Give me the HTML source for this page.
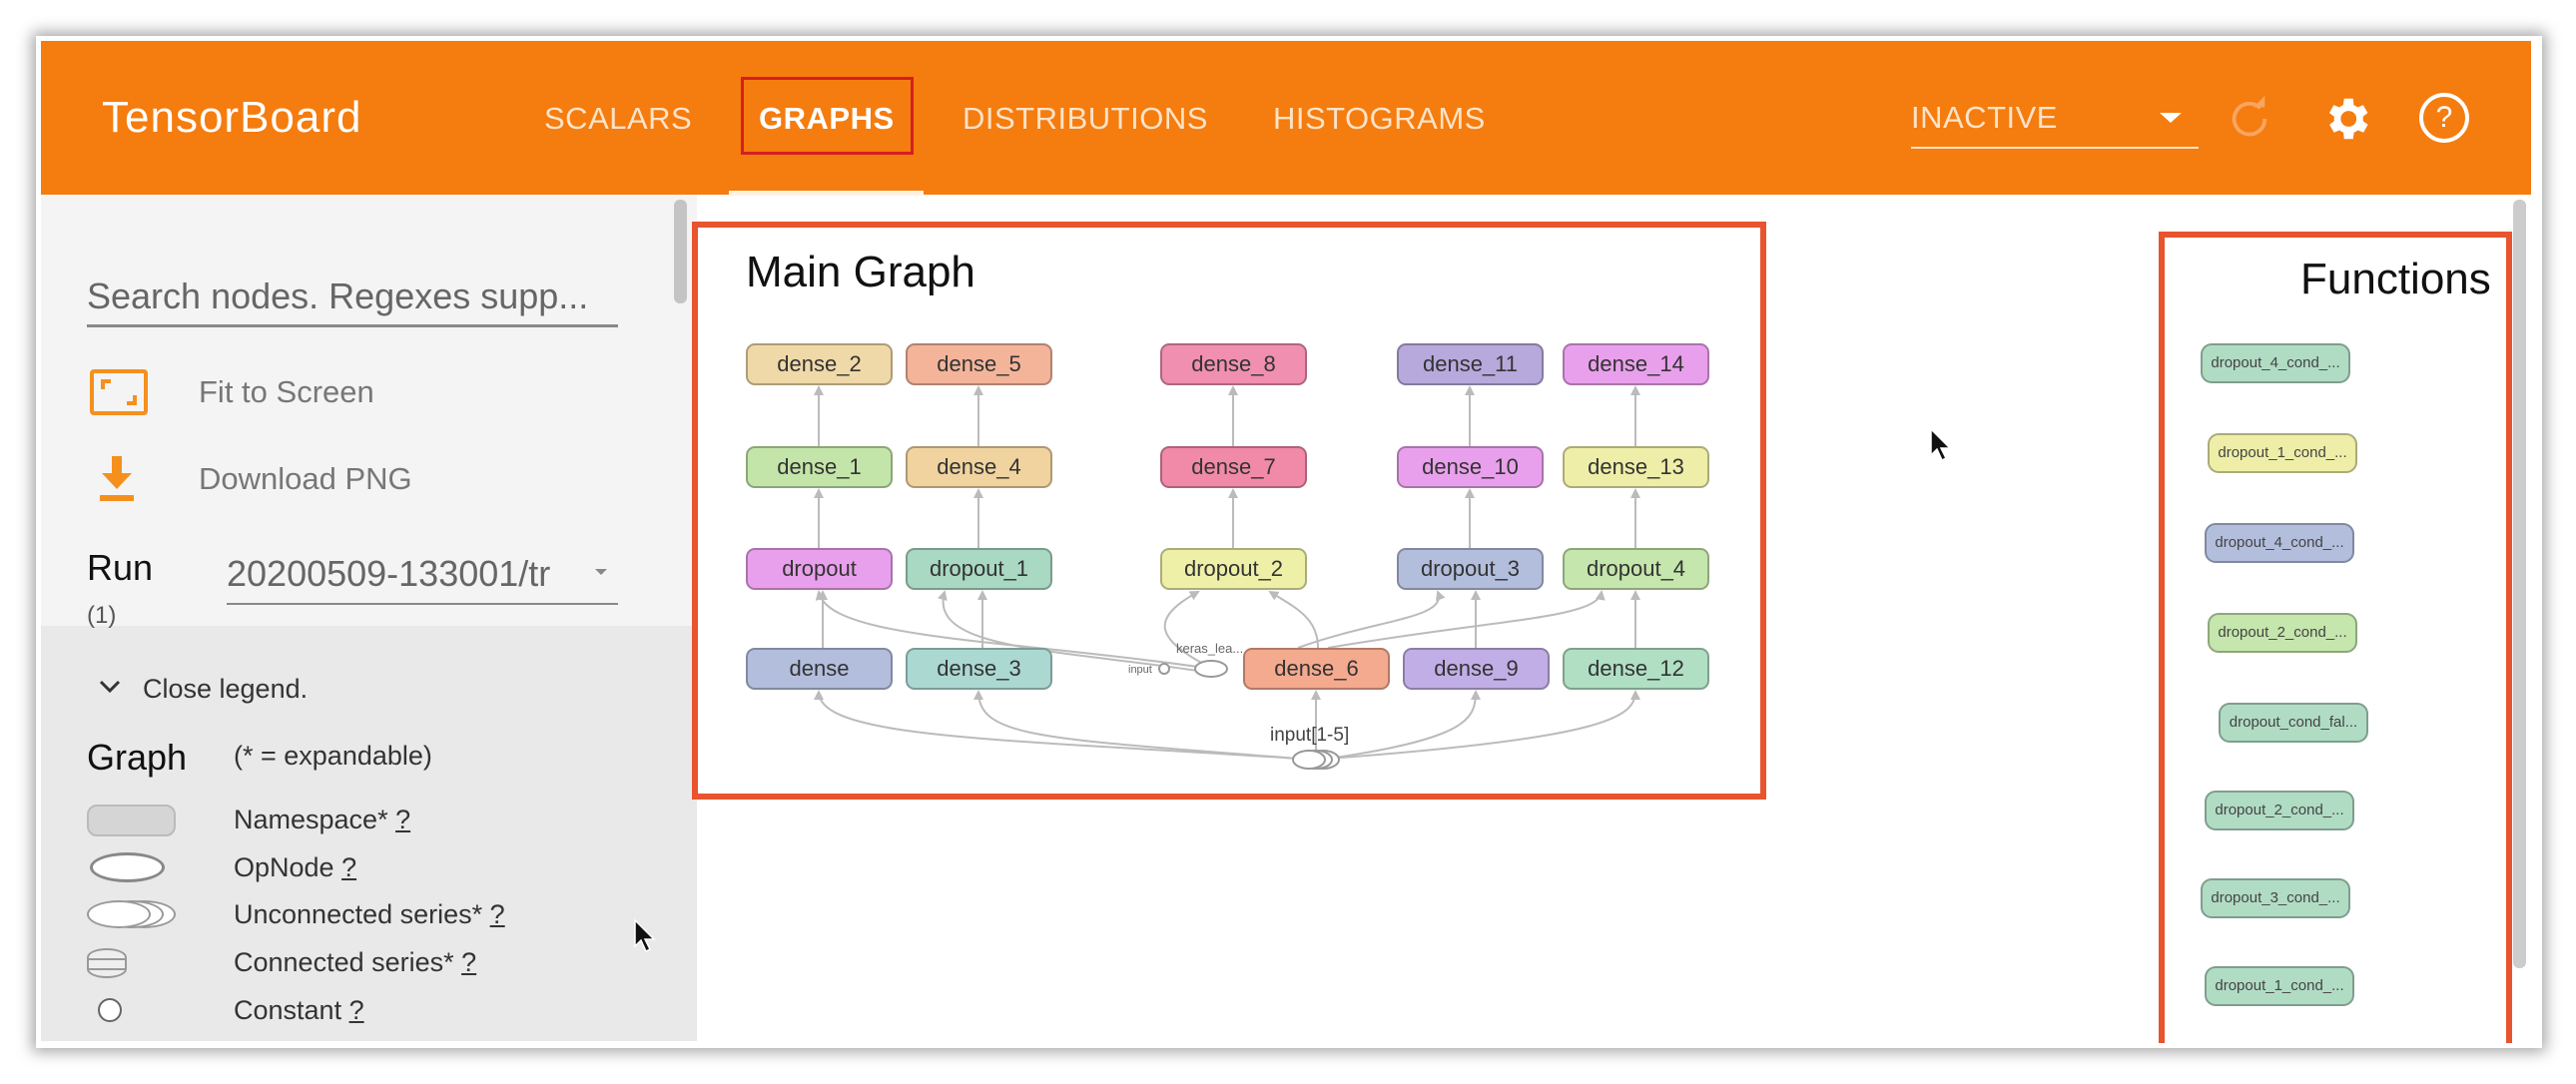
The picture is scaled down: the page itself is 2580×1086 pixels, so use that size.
<!DOCTYPE html>
<html><head><meta charset="utf-8"><style>
*{margin:0;padding:0;box-sizing:border-box}
body{width:2580px;height:1086px;background:#fff;position:relative;overflow:hidden;font-family:"Liberation Sans",sans-serif}
.a{position:absolute;white-space:nowrap}
.card{position:absolute;left:36px;top:36px;width:2510px;height:1014px;background:#fff;box-shadow:0 0 14px 4px rgba(0,0,0,.35)}
.hdr{position:absolute;left:41px;top:41px;width:2494px;height:154px;background:#f57c0e}
.nav{color:#fde3c8;font-size:31px;top:101px;letter-spacing:0.5px}
.node{position:absolute;width:147px;height:42px;border:2px solid rgba(0,0,0,.28);border-radius:9px;font-size:22px;color:#333;text-align:center;line-height:38px}
.fn{position:absolute;width:150px;height:40px;border:2px solid rgba(0,0,0,.28);border-radius:11px;font-size:15px;color:#444;text-align:center;line-height:36px}
.side{color:#777;font-size:31px}
.leg{font-size:27px;color:#333}
.leg u{text-decoration:underline;}
</style></head><body>
<div class="card"></div>
<div class="hdr"></div>
<div class="a" style="left:102px;top:93px;font-size:44px;color:#fff;letter-spacing:1px">TensorBoard</div>
<div class="a nav" style="left:545px">SCALARS</div>
<div class="a nav" style="left:760px;color:#fff;font-weight:bold">GRAPHS</div>
<div class="a" style="left:742px;top:77px;width:173px;height:78px;border:3px solid #d42020"></div>
<div class="a" style="left:730px;top:191px;width:195px;height:5px;background:#fff3e0"></div>
<div class="a nav" style="left:964px">DISTRIBUTIONS</div>
<div class="a nav" style="left:1275px">HISTOGRAMS</div>
<div class="a" style="left:1914px;top:100px;font-size:31px;color:#fde3c8;letter-spacing:0.5px">INACTIVE</div>
<div class="a" style="left:1914px;top:147px;width:288px;height:2px;background:#fde3c8"></div>
<div class="a" style="left:2163px;top:113px;width:0;height:0;border-left:11px solid transparent;border-right:11px solid transparent;border-top:10px solid #fff"></div>
<svg class="a" style="left:2230px;top:96px" width="46" height="46" viewBox="0 0 24 24"><path d="M17.6 6.4A8 8 0 1 0 20 12" fill="none" stroke="#f8a560" stroke-width="2"/><path d="M14 6h6V0z" fill="#f8a560"/></svg>
<svg class="a" style="left:2323px;top:92px" width="54" height="54" viewBox="0 0 24 24"><path fill="#fff" d="M19.4 13a7.5 7.5 0 0 0 0-2l2.1-1.6-2-3.5-2.5 1a7.3 7.3 0 0 0-1.7-1L15 3h-4l-.4 2.9a7.3 7.3 0 0 0-1.7 1l-2.5-1-2 3.5L6.6 11a7.5 7.5 0 0 0 0 2l-2.1 1.6 2 3.5 2.5-1a7.3 7.3 0 0 0 1.7 1L11 21h4l.4-2.9a7.3 7.3 0 0 0 1.7-1l2.5 1 2-3.5zM13 15.5a3.5 3.5 0 1 1 0-7 3.5 3.5 0 0 1 0 7z"/></svg>
<div class="a" style="left:2423px;top:93px;width:50px;height:50px;border:4px solid #fff;border-radius:50%;color:#fff;font-size:30px;text-align:center;line-height:42px">?</div>

<!-- sidebar -->
<div class="a" style="left:41px;top:195px;width:657px;height:432px;background:#f4f4f4"></div>
<div class="a" style="left:41px;top:627px;width:657px;height:416px;background:#e9e9e9"></div>
<div class="a" style="left:675px;top:200px;width:13px;height:104px;background:#c4c4c4;border-radius:6px"></div>
<div class="a" style="left:87px;top:276px;font-size:36px;color:#666">Search nodes. Regexes supp...</div>
<div class="a" style="left:87px;top:325px;width:532px;height:3px;background:#888"></div>
<div class="a" style="left:90px;top:370px;width:58px;height:46px;border:4px solid #f5901e;border-radius:4px"></div>
<div class="a" style="left:101px;top:380px;width:10px;height:10px;border-left:4px solid #f5901e;border-top:4px solid #f5901e"></div>
<div class="a" style="left:127px;top:396px;width:10px;height:10px;border-right:4px solid #f5901e;border-bottom:4px solid #f5901e"></div>
<div class="a side" style="left:199px;top:375px">Fit to Screen</div>
<div class="a" style="left:112px;top:457px;width:10px;height:18px;background:#f5901e"></div>
<div class="a" style="left:102px;top:474px;width:0;height:0;border-left:15px solid transparent;border-right:15px solid transparent;border-top:16px solid #f5901e"></div>
<div class="a" style="left:100px;top:496px;width:34px;height:6px;background:#f5901e"></div>
<div class="a side" style="left:199px;top:462px">Download PNG</div>
<div class="a" style="left:87px;top:548px;font-size:36px;color:#111">Run</div>
<div class="a" style="left:87px;top:603px;font-size:24px;color:#555">(1)</div>
<div class="a" style="left:227px;top:554px;font-size:36px;color:#666">20200509-133001/tr</div>
<div class="a" style="left:596px;top:570px;width:0;height:0;border-left:6px solid transparent;border-right:6px solid transparent;border-top:6px solid #888"></div>
<div class="a" style="left:227px;top:604px;width:392px;height:2px;background:#888"></div>
<svg class="a" style="left:98px;top:680px" width="24" height="16"><path d="M3 3l9 9 9-9" fill="none" stroke="#333" stroke-width="3"/></svg>
<div class="a leg" style="left:143px;top:675px">Close legend.</div>
<div class="a" style="left:87px;top:738px;font-size:36px;color:#111">Graph</div>
<div class="a leg" style="left:234px;top:742px">(* = expandable)</div>
<div class="a" style="left:87px;top:806px;width:89px;height:32px;background:#d5d5d5;border:2px solid #bbb;border-radius:10px"></div>
<div class="a" style="left:90px;top:854px;width:75px;height:30px;background:#fff;border:3px solid #888;border-radius:50%"></div>
<div class="a" style="left:112px;top:902px;width:64px;height:28px;background:#fff;border:2px solid #999;border-radius:50%"></div>
<div class="a" style="left:100px;top:902px;width:64px;height:28px;background:#fff;border:2px solid #999;border-radius:50%"></div>
<div class="a" style="left:87px;top:902px;width:64px;height:28px;background:#fff;border:2px solid #999;border-radius:50%"></div>
<div class="a" style="left:87px;top:950px;width:40px;height:30px;border:2px solid #999;border-radius:50%/30%;background:repeating-linear-gradient(#eee 0 8px,#999 8px 10px)"></div>
<div class="a" style="left:98px;top:1000px;width:24px;height:24px;border:2px solid #666;border-radius:50%;background:#fff"></div>
<div class="a leg" style="left:234px;top:806px">Namespace* <u>?</u></div>
<div class="a leg" style="left:234px;top:854px">OpNode <u>?</u></div>
<div class="a leg" style="left:234px;top:901px">Unconnected series* <u>?</u></div>
<div class="a leg" style="left:234px;top:949px">Connected series* <u>?</u></div>
<div class="a leg" style="left:234px;top:997px">Constant <u>?</u></div>
<svg class="a" style="left:634px;top:920px" width="24" height="36"><path d="M2 2v26l6-6 5 11 4-2-5-10h9z" fill="#111" stroke="#fff" stroke-width="1.5"/></svg>

<!-- main graph -->
<div class="a" style="left:693px;top:222px;width:1076px;height:579px;border:6px solid #e8542e"></div>
<div class="a" style="left:747px;top:248px;font-size:44px;color:#111">Main Graph</div>
<svg class="a" style="left:0;top:0" width="2580" height="1086">
<defs><marker id="ar" markerWidth="5" markerHeight="5" refX="4" refY="2.5" orient="auto" markerUnits="strokeWidth"><path d="M0 0L5 2.5 0 5z" fill="#bbb"/></marker></defs>
<g stroke="#bbb" stroke-width="2" fill="none" marker-end="url(#ar)">
<path d="M820 447V388"/><path d="M980 447V388"/><path d="M1235 447V388"/><path d="M1472 447V388"/><path d="M1638 447V388"/>
<path d="M820 549V491"/><path d="M980 549V491"/><path d="M1235 549V491"/><path d="M1472 549V491"/><path d="M1638 549V491"/>
<path d="M824 649V593"/><path d="M984 649V593"/><path d="M1478 649V593"/><path d="M1638 649V593"/>
<path d="M1200 668C1000 640 830 640 820 593"/>
<path d="M1200 672C1050 650 930 650 946 593"/>
<path d="M1205 665C1160 640 1150 620 1200 593"/>
<path d="M1320 649C1320 620 1300 610 1272 593"/>
<path d="M1300 649C1380 620 1450 620 1440 593"/>
<path d="M1330 649C1500 620 1600 620 1604 593"/>
<path d="M1300 760C1000 740 820 740 820 693"/>
<path d="M1300 760C1050 740 980 740 980 693"/>
<path d="M1318 755V693"/>
<path d="M1330 760C1470 740 1478 720 1478 693"/>
<path d="M1330 760C1600 740 1638 720 1638 693"/>
</g>
<g stroke="#999" stroke-width="2" fill="#fff">
<circle cx="1166" cy="670" r="5"/><ellipse cx="1213" cy="670" rx="16" ry="8"/>
<ellipse cx="1325" cy="761" rx="16" ry="9"/><ellipse cx="1318" cy="761" rx="16" ry="9"/><ellipse cx="1311" cy="761" rx="16" ry="9"/>
</g>
<text x="1130" y="674" font-size="11" fill="#666" font-family="Liberation Sans">input</text>
<text x="1178" y="654" font-size="13" fill="#666" font-family="Liberation Sans">keras_lea...</text>
<text x="1272" y="742" font-size="19" fill="#444" font-family="Liberation Sans">input[1-5]</text>
</svg>
<div class="node" style="left:747px;top:344px;background:#f0d9a8">dense_2</div>
<div class="node" style="left:907px;top:344px;background:#f4b49a">dense_5</div>
<div class="node" style="left:1162px;top:344px;background:#f08fb0">dense_8</div>
<div class="node" style="left:1399px;top:344px;background:#b7a9dc">dense_11</div>
<div class="node" style="left:1565px;top:344px;background:#e9a0ec">dense_14</div>
<div class="node" style="left:747px;top:447px;background:#c3e5a9">dense_1</div>
<div class="node" style="left:907px;top:447px;background:#f0d39f">dense_4</div>
<div class="node" style="left:1162px;top:447px;background:#f08aa8">dense_7</div>
<div class="node" style="left:1399px;top:447px;background:#e9a0ec">dense_10</div>
<div class="node" style="left:1565px;top:447px;background:#eeeea8">dense_13</div>
<div class="node" style="left:747px;top:549px;background:#e9a0ec">dropout</div>
<div class="node" style="left:907px;top:549px;background:#a9d8c3">dropout_1</div>
<div class="node" style="left:1162px;top:549px;background:#eef0a8">dropout_2</div>
<div class="node" style="left:1399px;top:549px;background:#b3bedd">dropout_3</div>
<div class="node" style="left:1565px;top:549px;background:#c5e6ac">dropout_4</div>
<div class="node" style="left:747px;top:649px;background:#b3bedd">dense</div>
<div class="node" style="left:907px;top:649px;background:#acd8d2">dense_3</div>
<div class="node" style="left:1245px;top:649px;background:#f4aa8e">dense_6</div>
<div class="node" style="left:1405px;top:649px;background:#c2aee6">dense_9</div>
<div class="node" style="left:1565px;top:649px;background:#b0dfc4">dense_12</div>

<svg class="a" style="left:1932px;top:428px" width="24" height="36"><path d="M2 2v26l6-6 5 11 4-2-5-10h9z" fill="#111" stroke="#fff" stroke-width="1.5"/></svg>

<!-- functions -->
<div class="a" style="left:2162px;top:232px;width:354px;height:813px;border:6px solid #e8542e;border-bottom:none;overflow:hidden">
<div class="a" style="left:136px;top:17px;font-size:44px;color:#111">Functions</div>
</div>
<div class="a" style="left:2517px;top:200px;width:13px;height:770px;background:#ccc;border-radius:6px"></div>
<div class="fn" style="left:2204px;top:344px;background:#b0dcc4">dropout_4_cond_...</div>
<div class="fn" style="left:2211px;top:434px;background:#eeeea8">dropout_1_cond_...</div>
<div class="fn" style="left:2208px;top:524px;background:#b3bedd">dropout_4_cond_...</div>
<div class="fn" style="left:2211px;top:614px;background:#c5e6ac">dropout_2_cond_...</div>
<div class="fn" style="left:2222px;top:704px;background:#b0dcc4">dropout_cond_fal...</div>
<div class="fn" style="left:2208px;top:792px;background:#b0dcc4">dropout_2_cond_...</div>
<div class="fn" style="left:2204px;top:880px;background:#b0dcc4">dropout_3_cond_...</div>
<div class="fn" style="left:2208px;top:968px;background:#b0dcc4">dropout_1_cond_...</div>
</body></html>
